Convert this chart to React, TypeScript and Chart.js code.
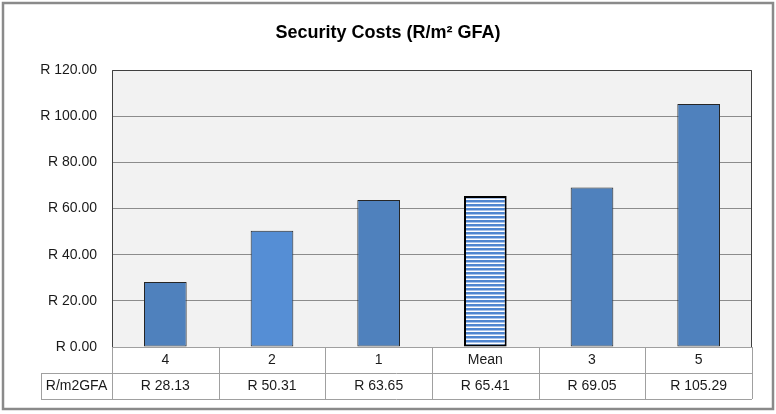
import React, { useEffect, useRef } from 'react';
import { Chart, registerables } from 'chart.js';

Chart.register(...registerables);

const chartTitle = 'Security Costs (R/m² GFA)';
const categories = ['4', '2', '1', 'Mean', '3', '5'];
const values = [28.13, 50.31, 63.65, 65.41, 69.05, 105.29];
const valueLabels = ['R 28.13', 'R 50.31', 'R 63.65', 'R 65.41', 'R 69.05', 'R 105.29'];
const rowLabel = 'R/m2GFA';
const yMin = 0;
const yMax = 120;
const yStep = 20;

const FONT = '"Liberation Sans", Arial, sans-serif';

function makeStripePattern(): CanvasPattern | string {
  const c = document.createElement('canvas');
  c.width = 4;
  c.height = 4;
  const g = c.getContext('2d');
  if (!g) return '#4F86D0';
  g.fillStyle = '#ffffff';
  g.fillRect(0, 0, 4, 4);
  g.fillStyle = '#4F86D0';
  g.fillRect(0, 0, 4, 2);
  g.fillStyle = '#a9c3ea';
  g.fillRect(0, 2, 4, 1);
  const p = g.createPattern(c, 'repeat');
  return p || '#4F86D0';
}

const framePlugin = {
  id: 'framePlugin',
  beforeDraw(chart: any) {
    const { ctx, chartArea } = chart;
    ctx.save();
    ctx.fillStyle = '#ffffff';
    ctx.fillRect(0, 0, chart.width, chart.height);
    ctx.strokeStyle = '#8a8a8a';
    ctx.lineWidth = 2.5;
    ctx.strokeRect(3, 3, 770, 406);
    ctx.fillStyle = '#f2f2f2';
    ctx.fillRect(chartArea.left, chartArea.top, chartArea.right - chartArea.left, chartArea.bottom - chartArea.top);
    // title
    ctx.fillStyle = '#000000';
    ctx.font = `bold 18px ${FONT}`;
    ctx.textAlign = 'center';
    ctx.textBaseline = 'middle';
    ctx.fillText(chartTitle, chart.width / 2, 33);
    ctx.restore();
  },
  afterDraw(chart: any) {
    const { ctx, chartArea } = chart;
    const x = chart.scales.x;
    const n = categories.length;
    const half = (chartArea.right - chartArea.left) / n / 2;
    const top = chartArea.bottom;
    const mid = top + 26;
    const bot = top + 52;
    const labelLeft = 41;
    ctx.save();
    // plot border
    ctx.strokeStyle = '#404040';
    ctx.lineWidth = 1;
    ctx.beginPath();
    ctx.moveTo(chartArea.left + 0.5, chartArea.bottom);
    ctx.lineTo(chartArea.left + 0.5, chartArea.top + 0.5);
    ctx.lineTo(chartArea.right - 0.5, chartArea.top + 0.5);
    ctx.lineTo(chartArea.right - 0.5, chartArea.bottom);
    ctx.stroke();
    // table lines
    ctx.strokeStyle = '#a0a0a0';
    ctx.beginPath();
    ctx.moveTo(chartArea.left, top + 0.5);
    ctx.lineTo(chartArea.right, top + 0.5);
    ctx.moveTo(labelLeft, mid + 0.5);
    ctx.lineTo(chartArea.right, mid + 0.5);
    ctx.moveTo(labelLeft, bot + 0.5);
    ctx.lineTo(chartArea.right, bot + 0.5);
    ctx.moveTo(labelLeft + 0.5, mid);
    ctx.lineTo(labelLeft + 0.5, bot);
    for (let i = 0; i <= n; i++) {
      const px = i < n ? x.getPixelForValue(i) - half : x.getPixelForValue(n - 1) + half;
      const xx = Math.round(px) + 0.5;
      ctx.moveTo(xx, top);
      ctx.lineTo(xx, bot);
    }
    ctx.stroke();
    // table text
    ctx.fillStyle = '#1a1a1a';
    ctx.font = `14px ${FONT}`;
    ctx.textAlign = 'center';
    ctx.textBaseline = 'middle';
    for (let i = 0; i < n; i++) {
      const cx = x.getPixelForValue(i);
      ctx.fillText(categories[i], cx, top + 13);
      ctx.fillText(valueLabels[i], cx, mid + 13);
    }
    ctx.fillText(rowLabel, (labelLeft + chartArea.left) / 2, mid + 13);
    ctx.restore();
  },
};

export default function App() {
  const ref = useRef<HTMLCanvasElement | null>(null);

  useEffect(() => {
    document.body.style.margin = '0';
    if (!ref.current) return;
    const pattern = makeStripePattern();
    const chart = new Chart(ref.current, {
      type: 'bar',
      data: {
        labels: categories,
        datasets: [
          {
            data: values,
            backgroundColor: ['#4F81BD', '#558ED5', '#4F81BD', pattern as any, '#4F81BD', '#4F81BD'],
            borderColor: ['#262626', '#262626', '#262626', '#000000', '#262626', '#262626'],
            borderWidth: [1, 1, 1, 2, 1, 1],
            borderSkipped: false,
            barPercentage: 0.4,
            categoryPercentage: 1,
          },
        ],
      },
      options: {
        animation: false,
        responsive: false,
        layout: { padding: { left: 0, right: 24, top: 70, bottom: 67 } },
        plugins: {
          legend: { display: false },
          title: { display: false },
          tooltip: { enabled: false },
        },
        scales: {
          x: { display: false },
          y: {
            min: yMin,
            max: yMax,
            afterFit: (s: any) => {
              s.width = 112;
            },
            ticks: {
              stepSize: yStep,
              padding: 15,
              color: '#1a1a1a',
              font: { family: FONT, size: 14 },
              callback: (v: any) => 'R ' + Number(v).toFixed(2),
            },
            grid: { color: '#8c8c8c', drawTicks: false, lineWidth: 1 },
            border: { display: false },
          },
        },
      },
      plugins: [framePlugin],
    });
    return () => chart.destroy();
  }, []);

  return <canvas ref={ref} width={776} height={414} style={{ display: 'block' }} />;
}
